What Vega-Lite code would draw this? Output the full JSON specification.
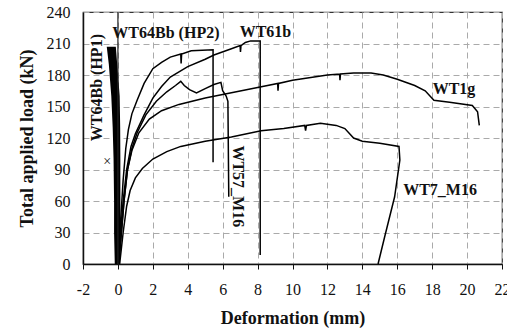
{
  "$schema": "https://vega.github.io/schema/vega-lite/v6.json",
  "width": 419,
  "height": 252,
  "autosize": "none",
  "padding": {"left": 83, "top": 12, "right": 5, "bottom": 69},
  "background": "white",
  "config": {
    "font": "Liberation Serif",
    "view": {"stroke": "#333", "strokeWidth": 1.2}
  },
  "datasets": {
    "curves": [
      {"s": "HP2", "o": 1, "x": 0, "y": 0},
      {"s": "HP2", "o": 2, "x": 0.15, "y": 40},
      {"s": "HP2", "o": 3, "x": 0.3, "y": 80},
      {"s": "HP2", "o": 4, "x": 0.45, "y": 110},
      {"s": "HP2", "o": 5, "x": 0.6, "y": 128},
      {"s": "HP2", "o": 6, "x": 0.8, "y": 143},
      {"s": "HP2", "o": 7, "x": 1.1, "y": 156},
      {"s": "HP2", "o": 8, "x": 1.5, "y": 172},
      {"s": "HP2", "o": 9, "x": 2.0, "y": 186},
      {"s": "HP2", "o": 10, "x": 2.5, "y": 192},
      {"s": "HP2", "o": 11, "x": 3.0, "y": 197},
      {"s": "HP2", "o": 12, "x": 3.6, "y": 200},
      {"s": "HP2", "o": 13, "x": 3.62, "y": 191},
      {"s": "HP2", "o": 14, "x": 3.65, "y": 200},
      {"s": "HP2", "o": 15, "x": 4.2, "y": 203},
      {"s": "HP2", "o": 16, "x": 5.45, "y": 204},
      {"s": "HP2", "o": 17, "x": 5.45, "y": 97},
      {"s": "WT61b", "o": 1, "x": 0, "y": 0},
      {"s": "WT61b", "o": 2, "x": 0.15, "y": 30},
      {"s": "WT61b", "o": 3, "x": 0.3, "y": 60},
      {"s": "WT61b", "o": 4, "x": 0.5, "y": 90},
      {"s": "WT61b", "o": 5, "x": 0.75, "y": 112},
      {"s": "WT61b", "o": 6, "x": 1.0, "y": 124},
      {"s": "WT61b", "o": 7, "x": 1.5, "y": 142},
      {"s": "WT61b", "o": 8, "x": 2.0, "y": 158},
      {"s": "WT61b", "o": 9, "x": 2.5, "y": 169},
      {"s": "WT61b", "o": 10, "x": 3.0, "y": 178},
      {"s": "WT61b", "o": 11, "x": 4.0, "y": 188},
      {"s": "WT61b", "o": 12, "x": 5.0, "y": 195},
      {"s": "WT61b", "o": 13, "x": 5.5, "y": 199},
      {"s": "WT61b", "o": 14, "x": 6.5, "y": 205},
      {"s": "WT61b", "o": 15, "x": 7.0, "y": 208},
      {"s": "WT61b", "o": 16, "x": 7.02, "y": 202},
      {"s": "WT61b", "o": 17, "x": 7.05, "y": 208},
      {"s": "WT61b", "o": 18, "x": 7.3, "y": 211},
      {"s": "WT61b", "o": 19, "x": 7.6, "y": 212.5},
      {"s": "WT61b", "o": 20, "x": 8.15, "y": 212.5},
      {"s": "WT61b", "o": 21, "x": 8.15, "y": 8.5},
      {"s": "WT57", "o": 1, "x": 0.05, "y": 0},
      {"s": "WT57", "o": 2, "x": 0.2, "y": 30},
      {"s": "WT57", "o": 3, "x": 0.35, "y": 60},
      {"s": "WT57", "o": 4, "x": 0.55, "y": 90},
      {"s": "WT57", "o": 5, "x": 0.8, "y": 110},
      {"s": "WT57", "o": 6, "x": 1.1, "y": 125},
      {"s": "WT57", "o": 7, "x": 1.6, "y": 142},
      {"s": "WT57", "o": 8, "x": 2.2, "y": 155},
      {"s": "WT57", "o": 9, "x": 2.8, "y": 164},
      {"s": "WT57", "o": 10, "x": 3.3, "y": 170},
      {"s": "WT57", "o": 11, "x": 3.6, "y": 174},
      {"s": "WT57", "o": 12, "x": 3.8, "y": 170},
      {"s": "WT57", "o": 13, "x": 4.1, "y": 166},
      {"s": "WT57", "o": 14, "x": 4.5, "y": 163},
      {"s": "WT57", "o": 15, "x": 5.0, "y": 167},
      {"s": "WT57", "o": 16, "x": 5.5, "y": 171},
      {"s": "WT57", "o": 17, "x": 5.9, "y": 173},
      {"s": "WT57", "o": 18, "x": 6.0, "y": 165},
      {"s": "WT57", "o": 19, "x": 6.2, "y": 160},
      {"s": "WT57", "o": 20, "x": 6.3, "y": 155},
      {"s": "WT57", "o": 21, "x": 6.35, "y": 64},
      {"s": "WT1g", "o": 1, "x": 0.05, "y": 0},
      {"s": "WT1g", "o": 2, "x": 0.2, "y": 30},
      {"s": "WT1g", "o": 3, "x": 0.35, "y": 60},
      {"s": "WT1g", "o": 4, "x": 0.55, "y": 90},
      {"s": "WT1g", "o": 5, "x": 0.8, "y": 108},
      {"s": "WT1g", "o": 6, "x": 1.2, "y": 125},
      {"s": "WT1g", "o": 7, "x": 1.8, "y": 138},
      {"s": "WT1g", "o": 8, "x": 2.5, "y": 146},
      {"s": "WT1g", "o": 9, "x": 3.5, "y": 152},
      {"s": "WT1g", "o": 10, "x": 5, "y": 158},
      {"s": "WT1g", "o": 11, "x": 6.5, "y": 163},
      {"s": "WT1g", "o": 12, "x": 8, "y": 168},
      {"s": "WT1g", "o": 13, "x": 9.15, "y": 172},
      {"s": "WT1g", "o": 14, "x": 9.17, "y": 165},
      {"s": "WT1g", "o": 15, "x": 9.2, "y": 172},
      {"s": "WT1g", "o": 16, "x": 10, "y": 175},
      {"s": "WT1g", "o": 17, "x": 12, "y": 180},
      {"s": "WT1g", "o": 18, "x": 12.7, "y": 181},
      {"s": "WT1g", "o": 19, "x": 12.72, "y": 175},
      {"s": "WT1g", "o": 20, "x": 12.75, "y": 181},
      {"s": "WT1g", "o": 21, "x": 13.5, "y": 182},
      {"s": "WT1g", "o": 22, "x": 14.5, "y": 182},
      {"s": "WT1g", "o": 23, "x": 15.2, "y": 180},
      {"s": "WT1g", "o": 24, "x": 16, "y": 176},
      {"s": "WT1g", "o": 25, "x": 17, "y": 170},
      {"s": "WT1g", "o": 26, "x": 17.6, "y": 165},
      {"s": "WT1g", "o": 27, "x": 18.1, "y": 156},
      {"s": "WT1g", "o": 28, "x": 19, "y": 154},
      {"s": "WT1g", "o": 29, "x": 20.3, "y": 151},
      {"s": "WT1g", "o": 30, "x": 20.6, "y": 145},
      {"s": "WT1g", "o": 31, "x": 20.7, "y": 132},
      {"s": "WT7", "o": 1, "x": 0.1, "y": 0},
      {"s": "WT7", "o": 2, "x": 0.3, "y": 30},
      {"s": "WT7", "o": 3, "x": 0.5, "y": 55},
      {"s": "WT7", "o": 4, "x": 0.7, "y": 70},
      {"s": "WT7", "o": 5, "x": 1.0, "y": 82},
      {"s": "WT7", "o": 6, "x": 1.4, "y": 91},
      {"s": "WT7", "o": 7, "x": 2.0, "y": 100},
      {"s": "WT7", "o": 8, "x": 2.8, "y": 107},
      {"s": "WT7", "o": 9, "x": 3.6, "y": 112},
      {"s": "WT7", "o": 10, "x": 5, "y": 117},
      {"s": "WT7", "o": 11, "x": 6.5, "y": 121},
      {"s": "WT7", "o": 12, "x": 8.2, "y": 127},
      {"s": "WT7", "o": 13, "x": 9.5, "y": 129},
      {"s": "WT7", "o": 14, "x": 10.7, "y": 132},
      {"s": "WT7", "o": 15, "x": 10.75, "y": 127},
      {"s": "WT7", "o": 16, "x": 10.8, "y": 132},
      {"s": "WT7", "o": 17, "x": 11.6, "y": 134},
      {"s": "WT7", "o": 18, "x": 12.5, "y": 132},
      {"s": "WT7", "o": 19, "x": 13, "y": 129},
      {"s": "WT7", "o": 20, "x": 13.5, "y": 120},
      {"s": "WT7", "o": 21, "x": 14, "y": 117},
      {"s": "WT7", "o": 22, "x": 15, "y": 115},
      {"s": "WT7", "o": 23, "x": 16.1, "y": 112},
      {"s": "WT7", "o": 24, "x": 16.15, "y": 99},
      {"s": "WT7", "o": 25, "x": 15.85, "y": 64},
      {"s": "WT7", "o": 26, "x": 15.28, "y": 26},
      {"s": "WT7", "o": 27, "x": 14.9, "y": 0}
    ],
    "hp1": [
      {"y": 0, "lo": -0.18, "hi": 0.12},
      {"y": 30, "lo": -0.22, "hi": 0.14},
      {"y": 60, "lo": -0.22, "hi": 0.14},
      {"y": 100, "lo": -0.25, "hi": 0.14},
      {"y": 130, "lo": -0.3, "hi": 0.13},
      {"y": 160, "lo": -0.38, "hi": 0.1},
      {"y": 190, "lo": -0.52, "hi": -0.04},
      {"y": 207, "lo": -0.64, "hi": -0.12}
    ],
    "zero": [{"x": 0, "y": 0, "y2": 240}],
    "labels": [
      {"t": "WT64Bb (HP2)", "x": 2.75, "y": 220},
      {"t": "WT61b", "x": 8.45, "y": 221},
      {"t": "WT1g", "x": 19.25, "y": 167},
      {"t": "WT7_M16", "x": 18.45, "y": 70.5}
    ],
    "vlabels": [{"t": "WT57_M16", "x": 6.85, "y": 74}],
    "hlabels": [{"t": "WT64Bb (HP1)", "x": -1.18, "y": 168}],
    "marks": [{"t": "×", "x": -0.62, "y": 97}]
  },
  "encoding": {
    "y": {"type": "quantitative", "scale": {"domain": [0, 240], "nice": false},
      "axis": {"values": [0, 30, 60, 90, 120, 150, 180, 210, 240], "ticks": false, "labelPadding": 13,
        "labelOverlap": false, "labelFlush": false, "labelFont": "Liberation Serif", "labelFontSize": 16, "labelColor": "#111",
        "grid": true, "gridColor": "#aaaaaa", "gridOpacity": 1, "gridDash": [6, 4], "gridWidth": 1,
        "domainColor": "#111", "domainWidth": 1.5,
        "title": "Total applied load (kN)", "titleFont": "Liberation Serif", "titleFontSize": 18, "titleFontWeight": "bold", "titleColor": "#111", "titlePadding": 10}},
    "x": {"type": "quantitative", "scale": {"domain": [-2, 22], "nice": false},
      "axis": {"values": [-2, 0, 2, 4, 6, 8, 10, 12, 14, 16, 18, 20, 22], "tickSize": 5, "tickColor": "#111", "labelPadding": 12,
        "labelOverlap": false, "labelFlush": false, "labelExpr": "datum.value + ''", "labelFont": "Liberation Serif", "labelFontSize": 16, "labelColor": "#111",
        "grid": true, "gridColor": "#aaaaaa", "gridOpacity": 1, "gridDash": [6, 4], "gridWidth": 1,
        "domainColor": "#111", "domainWidth": 1.5,
        "title": "Deformation (mm)", "titleFont": "Liberation Serif", "titleFontSize": 18, "titleFontWeight": "bold", "titleColor": "#111", "titlePadding": 12}}
  },
  "layer": [
    {
      "data": {"name": "hp1"},
      "mark": {"type": "area", "orient": "horizontal", "color": "#000"},
      "encoding": {
        "y": {"field": "y", "type": "quantitative"},
        "x": {"field": "lo", "type": "quantitative"},
        "x2": {"field": "hi"}
      }
    },
    {
      "data": {"name": "curves"},
      "mark": {"type": "line", "color": "#000", "strokeWidth": 1.5},
      "encoding": {
        "x": {"field": "x", "type": "quantitative"},
        "y": {"field": "y", "type": "quantitative"},
        "detail": {"field": "s"},
        "order": {"field": "o", "type": "quantitative"}
      }
    },
    {
      "data": {"name": "zero"},
      "mark": {"type": "rule", "color": "#222", "strokeWidth": 1.2},
      "encoding": {
        "x": {"field": "x", "type": "quantitative"},
        "y": {"field": "y", "type": "quantitative"},
        "y2": {"field": "y2"}
      }
    },
    {
      "data": {"name": "labels"},
      "mark": {"type": "text", "font": "Liberation Serif", "fontWeight": "bold", "fontSize": 16, "color": "#111"},
      "encoding": {
        "x": {"field": "x", "type": "quantitative"},
        "y": {"field": "y", "type": "quantitative"},
        "text": {"field": "t"}
      }
    },
    {
      "data": {"name": "vlabels"},
      "mark": {"type": "text", "font": "Liberation Serif", "fontWeight": "bold", "fontSize": 16, "color": "#111", "angle": 90},
      "encoding": {
        "x": {"field": "x", "type": "quantitative"},
        "y": {"field": "y", "type": "quantitative"},
        "text": {"field": "t"}
      }
    },
    {
      "data": {"name": "hlabels"},
      "mark": {"type": "text", "font": "Liberation Serif", "fontWeight": "bold", "fontSize": 16, "color": "#111", "angle": 270},
      "encoding": {
        "x": {"field": "x", "type": "quantitative"},
        "y": {"field": "y", "type": "quantitative"},
        "text": {"field": "t"}
      }
    },
    {
      "data": {"name": "marks"},
      "mark": {"type": "text", "font": "Liberation Serif", "fontSize": 14, "color": "#111"},
      "encoding": {
        "x": {"field": "x", "type": "quantitative"},
        "y": {"field": "y", "type": "quantitative"},
        "text": {"field": "t"}
      }
    }
  ]
}
